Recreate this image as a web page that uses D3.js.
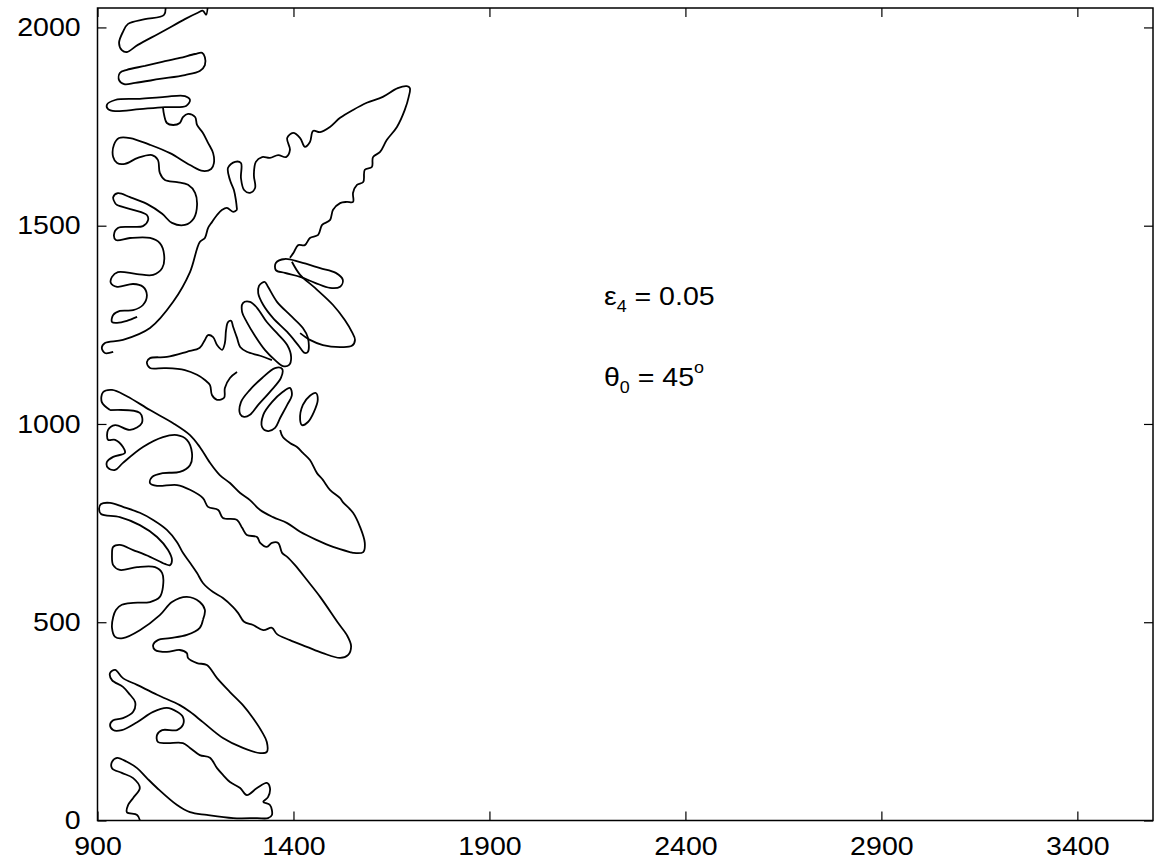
<!DOCTYPE html>
<html>
<head>
<meta charset="utf-8">
<script src="https://cdn.jsdelivr.net/npm/d3@7"></script>
<style>
  body { margin: 0; background: #fff; }
  text { font-family: "Liberation Sans", Arial, sans-serif; fill: #000; }
</style>
</head>
<body>
<div id="chart"></div>
<script>
const xTicks = [900, 1400, 1900, 2400, 2900, 3400]
const yTicks = [0, 500, 1000, 1500, 2000]

// interface contours (x, y in grid units)
const topLeaf = [[1072,2064],[1070,2032],[1021,2021],[978,2009],[965,1989],[955,1961],[962,1943],[975,1938],[1003,1956],[1065,1989],[1123,2021],[1156,2037],[1169,2042],[1177,2032],[1182,2064]]
const secondLeaf = [[975,1893],[1021,1903],[1065,1913],[1110,1923],[1149,1933],[1167,1936],[1174,1925],[1174,1905],[1161,1890],[1123,1880],[1059,1870],[996,1860],[968,1857],[955,1867],[957,1885]]
const thirdLeaf = [[924,1805],[945,1817],[1008,1820],[1072,1825],[1123,1827],[1136,1817],[1126,1802],[1072,1799],[1008,1794],[945,1789],[927,1794]]
// hook under the third leaf, the blob below it and the lobed left edge
const upperChain = [[1067,1799],[1070,1779],[1077,1759],[1093,1754],[1110,1759],[1118,1774],[1131,1782],[1149,1774],[1154,1754],[1169,1734],[1182,1709],[1195,1683],[1197,1658],[1190,1643],[1169,1638],[1136,1653],[1085,1683],[1034,1704],[983,1721],[955,1721],[942,1704],[940,1673],[950,1658],[970,1656],[1003,1671],[1039,1678],[1054,1666],[1059,1633],[1072,1615],[1103,1610],[1131,1603],[1149,1583],[1154,1552],[1146,1519],[1123,1502],[1090,1507],[1065,1530],[1026,1555],[983,1572],[952,1582],[940,1572],[945,1557],[950,1552],[991,1540],[1026,1527],[1029,1514],[1016,1499],[983,1497],[952,1494],[942,1477],[947,1464],[983,1469],[1034,1469],[1059,1456],[1070,1426],[1065,1393],[1042,1376],[1001,1378],[952,1383],[937,1371],[934,1356],[950,1346],[991,1353],[1016,1346],[1026,1325],[1016,1300],[991,1287],[957,1285],[940,1275],[937,1257],[950,1255],[975,1260],[1001,1270]]
const upperArm = [[1256,1540],[1253,1565],[1248,1590],[1238,1615],[1233,1646],[1251,1661],[1266,1658],[1266,1620],[1274,1590],[1289,1583],[1302,1595],[1299,1628],[1304,1661],[1320,1673],[1340,1671],[1361,1678],[1381,1673],[1391,1691],[1384,1721],[1399,1734],[1417,1721],[1429,1699],[1442,1711],[1450,1739],[1468,1736],[1493,1749],[1519,1772],[1552,1792],[1587,1810],[1628,1825],[1666,1847],[1689,1852],[1697,1847],[1694,1825],[1684,1792],[1664,1749],[1638,1716],[1621,1686],[1603,1673],[1600,1648],[1582,1641],[1578,1610],[1562,1603],[1552,1583],[1552,1560],[1536,1560],[1519,1557],[1501,1540],[1493,1514],[1473,1502],[1463,1477],[1442,1469],[1429,1451],[1412,1451],[1401,1433],[1391,1419]]
const longDiagonal = [[940,1182],[919,1179],[911,1192],[919,1204],[965,1212],[1034,1242],[1093,1308],[1136,1383],[1161,1459],[1174,1469],[1182,1494],[1192,1509],[1205,1527],[1218,1540],[1230,1545],[1246,1535],[1256,1540]]
const leafA = [[1355,1406],[1378,1416],[1417,1408],[1468,1393],[1508,1381],[1526,1363],[1519,1346],[1493,1343],[1455,1356],[1417,1371],[1378,1381],[1355,1388]]
const fingerB = [[1320,1356],[1327,1358],[1335,1346],[1358,1308],[1391,1275],[1424,1242],[1437,1217],[1437,1182],[1429,1179],[1412,1199],[1384,1232],[1348,1267],[1323,1300],[1310,1330],[1312,1348]]
const fingerC = [[1271,1305],[1289,1308],[1307,1293],[1332,1257],[1358,1229],[1384,1199],[1394,1169],[1389,1149],[1373,1146],[1353,1161],[1327,1187],[1302,1222],[1281,1257],[1269,1282]]
const bigFinger = [[1396,1409],[1417,1376],[1455,1343],[1501,1300],[1531,1262],[1549,1232],[1557,1212],[1549,1197],[1519,1194],[1475,1199],[1442,1212],[1417,1229]]
const midFinger = [[1345,1161],[1315,1172],[1281,1182],[1264,1194],[1256,1217],[1246,1245],[1241,1260],[1233,1257],[1228,1237],[1225,1204],[1218,1187],[1205,1199],[1195,1219],[1182,1224],[1174,1212],[1161,1192],[1128,1182],[1077,1169],[1034,1166],[1026,1156],[1034,1141],[1072,1141],[1123,1136],[1154,1124],[1174,1111],[1187,1098],[1192,1073],[1205,1061],[1223,1066],[1225,1091],[1238,1116],[1256,1131]]
const smallFinger1 = [[1264,1025],[1266,1055],[1289,1086],[1320,1116],[1353,1141],[1371,1139],[1368,1116],[1340,1081],[1310,1048],[1289,1023],[1274,1018]]
const smallFinger2 = [[1320,992],[1323,1023],[1345,1055],[1373,1081],[1391,1091],[1396,1073],[1384,1048],[1366,1015],[1353,990],[1335,982]]
const smallFinger3 = [[1417,1010],[1424,1048],[1442,1071],[1457,1078],[1462,1061],[1452,1030],[1437,1005],[1422,997]]
const lowerArm = [[932,1035],[911,1055],[914,1080],[937,1086],[975,1070],[1034,1035],[1093,1002],[1136,972],[1161,942],[1187,902],[1212,871],[1238,851],[1264,826],[1289,808],[1315,783],[1348,765],[1384,750],[1417,728],[1460,707],[1501,690],[1544,677],[1552,675],[1578,677],[1582,700],[1570,740],[1552,776],[1526,803],[1519,813],[1493,834],[1475,859],[1460,876],[1442,909],[1424,927],[1409,942],[1391,952],[1373,967],[1366,985]]
// wavy upper edge of the third arm, its tip, the lower edge and the leaf below it
const thirdArm = [[932,1035],[1008,1028],[1013,1002],[983,985],[945,997],[927,985],[927,960],[945,960],[965,942],[970,927],[940,917],[924,904],[927,889],[945,884],[965,902],[1016,942],[1067,967],[1103,972],[1128,960],[1141,927],[1136,896],[1110,879],[1067,876],[1039,866],[1034,851],[1052,844],[1103,846],[1136,834],[1169,813],[1182,791],[1208,783],[1220,763],[1256,758],[1269,738],[1281,720],[1307,715],[1315,700],[1332,690],[1345,700],[1361,700],[1371,675],[1384,665],[1404,644],[1434,607],[1468,564],[1514,498],[1536,468],[1547,440],[1539,417],[1519,410],[1475,422],[1434,438],[1391,455],[1358,470],[1345,486],[1323,480],[1297,493],[1274,501],[1259,523],[1246,538],[1220,561],[1195,576],[1169,599],[1154,624],[1136,650],[1118,675],[1103,702],[1077,733],[1042,758],[1008,776],[965,791],[932,801],[909,798],[904,786],[909,773],[957,765],[1008,745],[1052,715],[1080,682],[1090,657],[1085,644],[1072,647],[1034,665],[991,682],[957,695],[940,690],[937,670],[940,644],[957,632],[1001,639],[1047,639],[1065,624],[1067,589],[1059,564],[1034,551],[991,549],[962,544],[947,531],[940,513],[937,486],[945,463],[965,460],[1008,480],[1059,518],[1090,551],[1128,564],[1161,551],[1174,531],[1169,506]]
const bottomChain = [[1169,506],[1161,486],[1128,468],[1085,460],[1054,455],[1042,443],[1047,430],[1077,425],[1110,430],[1128,422],[1131,410],[1154,397],[1179,392],[1205,359],[1238,324],[1271,291],[1297,258],[1320,223],[1332,198],[1332,173],[1315,170],[1271,183],[1220,208],[1169,248],[1136,274],[1110,291],[1052,317],[1001,342],[965,359],[945,380],[932,372],[937,354],[965,337],[983,317],[996,299],[991,274],[965,258],[940,253],[932,241],[940,228],[962,228],[1001,248],[1042,274],[1077,284],[1103,274],[1118,261],[1118,241],[1103,228],[1065,228],[1052,216],[1054,198],[1077,195],[1118,195],[1136,183],[1161,165],[1187,158],[1205,132],[1220,115],[1238,97],[1264,82],[1281,64],[1307,82],[1332,95],[1340,82],[1335,59],[1323,47],[1340,39],[1345,14],[1335,6],[1307,6],[1246,6],[1179,14],[1136,21],[1103,39],[1052,82],[1026,107],[1001,132],[975,148],[950,158],[937,148],[937,132],[962,120],[991,107],[1008,82],[991,57],[978,39],[975,21],[1001,14],[1008,1],[1008,-10]]

const openCurves = [topLeaf, upperChain, upperArm, longDiagonal, bigFinger, midFinger, lowerArm, thirdArm, bottomChain]
const closedCurves = [secondLeaf, thirdLeaf, leafA, fingerB, fingerC, smallFinger1, smallFinger2, smallFinger3]

const margin = { top: 8, right: 1, bottom: 42.5, left: 97.5 }
const width = 1154 - margin.left - margin.right
const height = 863 - margin.top - margin.bottom
const stretch = 1.12

const xScale = d3.scaleLinear().domain([900, 3593]).range([0, width])
const yScale = d3.scaleLinear().domain([0, 2049]).range([height, 0])

const svg = d3
  .select("#chart")
  .append("svg")
  .attr("width", 1154)
  .attr("height", 863)
  .append("g")
  .attr("transform", "translate(" + margin.left + "," + margin.top + ")")

svg
  .append("clipPath")
  .attr("id", "plot")
  .append("rect")
  .attr("width", width)
  .attr("height", height)

const openLine = d3
  .line()
  .x(d => xScale(d[0]))
  .y(d => yScale(d[1]))
  .curve(d3.curveCatmullRom.alpha(0.5))
const closedLine = d3
  .line()
  .x(d => xScale(d[0]))
  .y(d => yScale(d[1]))
  .curve(d3.curveCatmullRomClosed.alpha(0.5))

const curves = svg.append("g").attr("clip-path", "url(#plot)")
curves
  .selectAll("path.open")
  .data(openCurves)
  .enter()
  .append("path")
  .attr("class", "open")
  .attr("d", openLine)
curves
  .selectAll("path.closed")
  .data(closedCurves)
  .enter()
  .append("path")
  .attr("class", "closed")
  .attr("d", closedLine)
curves
  .selectAll("path")
  .attr("fill", "none")
  .attr("stroke", "#000")
  .attr("stroke-width", 1.8)
  .attr("stroke-linejoin", "round")

const styleAxis = g => {
  g.select(".domain").remove()
  g.selectAll("line").attr("stroke", "#000").attr("stroke-width", 1.2)
  g.selectAll("text")
    .attr("font-size", 25.5)
    .attr("transform", `scale(${stretch},1)`)
}

svg
  .append("g")
  .attr("transform", "translate(0," + height + ")")
  .call(d3.axisBottom(xScale).tickValues(xTicks).tickFormat(d3.format("d")).tickSizeInner(-9).tickSizeOuter(0).tickPadding(16))
  .call(styleAxis)
svg
  .append("g")
  .call(d3.axisLeft(yScale).tickValues(yTicks).tickFormat(d3.format("d")).tickSizeInner(-9).tickSizeOuter(0).tickPadding(15))
  .call(styleAxis)
svg
  .append("g")
  .call(d3.axisTop(xScale).tickValues(xTicks).tickSizeInner(-9).tickSizeOuter(0).tickFormat(""))
  .call(styleAxis)
svg
  .append("g")
  .attr("transform", "translate(" + width + ",0)")
  .call(d3.axisRight(yScale).tickValues(yTicks).tickSizeInner(-9).tickSizeOuter(0).tickFormat(""))
  .call(styleAxis)

svg
  .append("rect")
  .attr("width", width)
  .attr("height", height)
  .attr("fill", "none")
  .attr("stroke", "#000")
  .attr("stroke-width", 1.5)

// parameter labels
const labels = [
  { sym: "ε", sub: "4", rest: " = 0.05", sup: "", x: 2192, y: 1300 },
  { sym: "θ", sub: "0", rest: " = 45", sup: "o", x: 2192, y: 1097 },
]
labels.forEach(l => {
  const t = svg
    .append("text")
    .attr("transform", `translate(${xScale(l.x)},${yScale(l.y)}) scale(${stretch},1)`)
    .attr("font-size", 25.5)
  t.append("tspan").text(l.sym)
  t.append("tspan").attr("font-size", 16).attr("dy", 7).text(l.sub)
  t.append("tspan").attr("dy", -7).text(l.rest)
  if (l.sup) t.append("tspan").attr("font-size", 16).attr("dy", -13).text(l.sup)
})
</script>
</body>
</html>
